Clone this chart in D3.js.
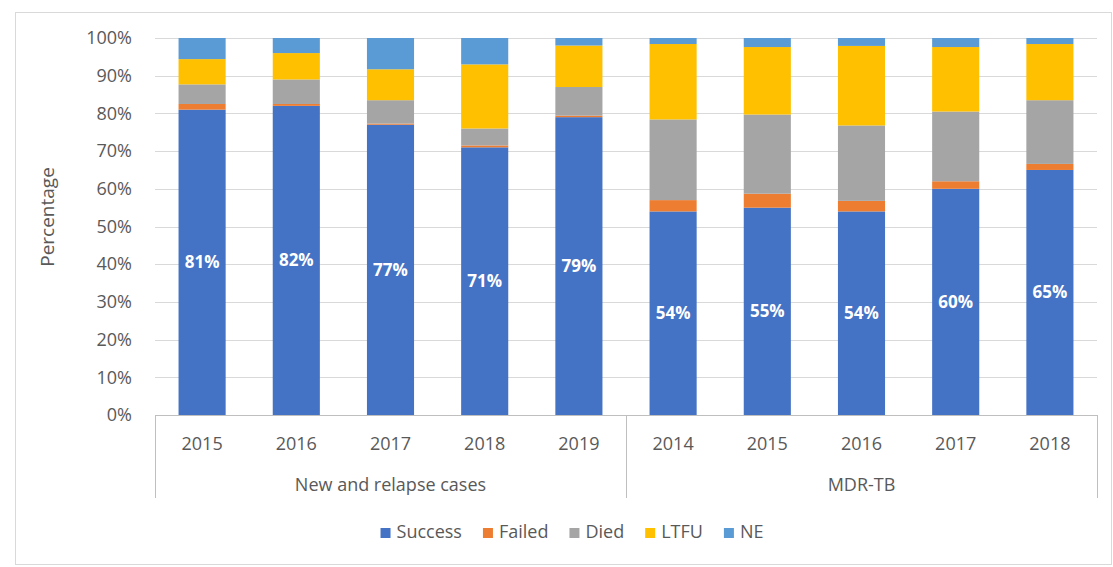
<!DOCTYPE html>
<html>
<head>
<meta charset="utf-8">
<script src="https://cdn.jsdelivr.net/npm/d3@7/dist/d3.min.js"></script>
<style>
  html, body { margin: 0; padding: 0; background: #ffffff; }
  svg { display: block; }
  text { font-family: "Open Sans", "Noto Sans", sans-serif; }
</style>
</head>
<body>
<svg id="chart" width="1113" height="567"></svg>
<script>
// Treatment outcomes by cohort year (percent of cohort)
const groups   = ["New and relapse cases", "MDR-TB"];
const years    = ["2015", "2016", "2017", "2018", "2019", "2014", "2015", "2016", "2017", "2018"];
const groupOf  = [0, 0, 0, 0, 0, 1, 1, 1, 1, 1];
const seriesNames = ["Success", "Failed", "Died", "LTFU", "NE"];
const success  = [81, 82, 77, 71, 79, 54, 55, 54, 60, 65];
const failed   = [1.5, 0.5, 0.3, 0.5, 0.4, 3, 3.7, 2.8, 2, 1.6];
const died     = [5.2, 6.5, 6.2, 4.5, 7.6, 21.4, 21, 20, 18.5, 16.9];
const ltfu     = [6.7, 7, 8.2, 17, 11, 20, 17.9, 21.1, 17.1, 14.9];
const ne       = [5.6, 4, 8.3, 7, 2, 1.6, 2.4, 2.1, 2.4, 1.6];
const yTicks   = [0, 10, 20, 30, 40, 50, 60, 70, 80, 90, 100];
const colors   = ["#4472C4", "#ED7D31", "#A5A5A5", "#FFC000", "#5B9BD5"];

const rows = years.map((y, i) => ({
  key: i,
  year: y,
  group: groupOf[i],
  Success: success[i], Failed: failed[i], Died: died[i], LTFU: ltfu[i], NE: ne[i]
}));

const svg = d3.select("#chart");
const textColor = "#595959";

// chart frame
svg.append("rect")
  .attr("x", 15.5).attr("y", 12.5)
  .attr("width", 1096).attr("height", 552)
  .attr("fill", "#ffffff").attr("stroke", "#d9d9d9").attr("stroke-width", 1);

const plot = { left: 155, right: 1097, top: 38, bottom: 415 };

const x = d3.scaleBand()
  .domain(rows.map(d => d.key))
  .range([plot.left, plot.right])
  .paddingInner(0.5)
  .paddingOuter(0.25);

const y = d3.scaleLinear().domain([0, 100]).range([plot.bottom, plot.top]);

// horizontal gridlines
svg.append("g")
  .selectAll("line")
  .data(yTicks.filter(t => t > 0))
  .join("line")
  .attr("x1", plot.left).attr("x2", plot.right)
  .attr("y1", d => Math.round(y(d)) + 0.5).attr("y2", d => Math.round(y(d)) + 0.5)
  .attr("stroke", "#d9d9d9").attr("stroke-width", 1);

// y axis labels
const yAxis = d3.axisLeft(y).tickValues(yTicks).tickFormat(d => d + "%").tickSize(0).tickPadding(0);
const yg = svg.append("g").attr("transform", `translate(${plot.left - 23},0)`).call(yAxis);
yg.select(".domain").remove();
yg.selectAll("text")
  .attr("fill", textColor)
  .style("font-size", "18px");

// stacked bars
const stack = d3.stack().keys(seriesNames);
const layers = stack(rows);

svg.append("g")
  .selectAll("g")
  .data(layers)
  .join("g")
  .attr("fill", (d, i) => colors[i])
  .selectAll("rect")
  .data(d => d)
  .join("rect")
  .attr("x", d => x(d.data.key))
  .attr("width", x.bandwidth())
  .attr("y", d => y(d[1]))
  .attr("height", d => y(d[0]) - y(d[1]));

// value labels on the Success segment
svg.append("g")
  .selectAll("text")
  .data(rows)
  .join("text")
  .attr("x", d => x(d.key) + x.bandwidth() / 2)
  .attr("y", d => y(d.Success / 2))
  .attr("dy", "0.35em")
  .attr("text-anchor", "middle")
  .attr("fill", "#ffffff")
  .style("font-size", "17px")
  .style("font-weight", "700")
  .text(d => d3.format(".0f")(d.Success) + "%");

// category axis (two levels)
const axisColor = "#bfbfbf";
const catBottom = 498;
const cat = svg.append("g");
cat.append("line")
  .attr("x1", plot.left).attr("x2", plot.right)
  .attr("y1", plot.bottom + 0.5).attr("y2", plot.bottom + 0.5)
  .attr("stroke", axisColor);

const step = x.step();
const groupEdges = [plot.left, plot.left + step * 5, plot.right];
cat.selectAll("line.sep")
  .data(groupEdges)
  .join("line")
  .attr("class", "sep")
  .attr("x1", d => Math.round(d) + 0.5).attr("x2", d => Math.round(d) + 0.5)
  .attr("y1", plot.bottom).attr("y2", catBottom)
  .attr("stroke", axisColor);

cat.selectAll("text.year")
  .data(rows)
  .join("text")
  .attr("class", "year")
  .attr("x", d => x(d.key) + x.bandwidth() / 2)
  .attr("y", 450)
  .attr("text-anchor", "middle")
  .attr("fill", textColor)
  .style("font-size", "18px")
  .text(d => d.year);

cat.selectAll("text.group")
  .data(groups)
  .join("text")
  .attr("class", "group")
  .attr("x", (d, i) => (groupEdges[i] + groupEdges[i + 1]) / 2)
  .attr("y", 491)
  .attr("text-anchor", "middle")
  .attr("fill", textColor)
  .style("font-size", "18px")
  .text(d => d);

// y axis title
svg.append("text")
  .attr("transform", "translate(47,217) rotate(-90)")
  .attr("text-anchor", "middle")
  .attr("dy", "0.35em")
  .attr("fill", textColor)
  .style("font-size", "19px")
  .text("Percentage");

// legend
const legend = svg.append("g");
const items = legend.selectAll("g")
  .data(seriesNames)
  .join("g");
items.append("rect")
  .attr("width", 10).attr("height", 10)
  .attr("y", -10)
  .attr("fill", (d, i) => colors[i]);
items.append("text")
  .attr("x", 16)
  .attr("y", 0)
  .attr("fill", textColor)
  .style("font-size", "18px")
  .text(d => d);

let cursor = 0;
const positions = [];
items.each(function () {
  const w = 16 + d3.select(this).select("text").node().getComputedTextLength();
  positions.push(cursor);
  cursor += w + 21;
});
const totalW = cursor - 21;
const legendCenter = 572;
items.attr("transform", (d, i) => `translate(${legendCenter - totalW / 2 + positions[i]},538)`);
</script>
</body>
</html>
